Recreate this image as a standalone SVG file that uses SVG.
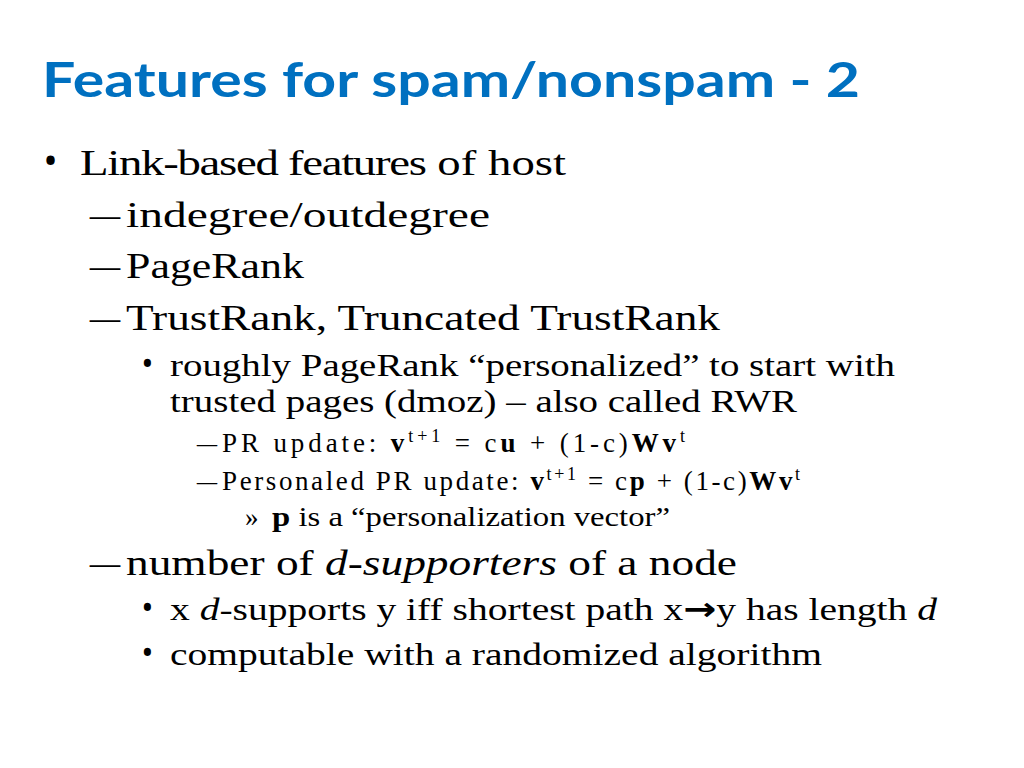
<svg xmlns="http://www.w3.org/2000/svg" width="1024" height="768" viewBox="0 0 1024 768">
<style>
.t{font-family:"Liberation Serif","DejaVu Serif",serif;fill:#000}
.s{font-family:"Open Sans","Liberation Sans",sans-serif}
.b{font-weight:bold}
.i{font-style:italic}
</style>
<rect width="1024" height="768" fill="#fff"/>
<text x="42" y="97" font-family="Lato,'Open Sans',sans-serif" font-weight="bold" font-size="48" fill="#0070C0" textLength="818" lengthAdjust="spacingAndGlyphs">Features for spam/nonspam - 2</text>
<g class="t">
<text x="43" y="175" font-size="40" class="s">•</text>
<text x="80" y="175" font-size="36" textLength="486" lengthAdjust="spacingAndGlyphs"><tspan letter-spacing="-1">Link-based features</tspan> of host</text>
<text x="90" y="227" font-size="36" textLength="30" lengthAdjust="spacingAndGlyphs">–</text>
<text x="126" y="227" font-size="36" textLength="364" lengthAdjust="spacingAndGlyphs">indegree/outdegree</text>
<text x="90" y="278" font-size="36" textLength="30" lengthAdjust="spacingAndGlyphs">–</text>
<text x="126" y="278" font-size="36" textLength="178" lengthAdjust="spacingAndGlyphs">PageRank</text>
<text x="90" y="330" font-size="36" textLength="30" lengthAdjust="spacingAndGlyphs">–</text>
<text x="126" y="330" font-size="36" textLength="594" lengthAdjust="spacingAndGlyphs">TrustRank, Truncated TrustRank</text>
<text x="141" y="376" font-size="34" class="s">•</text>
<text x="170" y="376" font-size="32" textLength="725" lengthAdjust="spacingAndGlyphs">roughly PageRank “personalized” to start with</text>
<text x="170" y="412" font-size="32" textLength="627" lengthAdjust="spacingAndGlyphs">trusted pages (dmoz) – also called RWR</text>
<text x="197" y="452" font-size="27" textLength="20" lengthAdjust="spacingAndGlyphs">–</text>
<text x="222" y="452" font-size="27" textLength="463" lengthAdjust="spacing">PR update: <tspan class="b">v</tspan><tspan font-size="18" dy="-10">t+1</tspan><tspan dy="10"> = c</tspan><tspan class="b">u</tspan> + (1-c)<tspan class="b">Wv</tspan><tspan font-size="18" dy="-10">t</tspan></text>
<text x="197" y="490" font-size="27" textLength="20" lengthAdjust="spacingAndGlyphs">–</text>
<text x="222" y="490" font-size="27" textLength="578" lengthAdjust="spacing">Personaled PR update: <tspan class="b">v</tspan><tspan font-size="18" dy="-10">t+1</tspan><tspan dy="10"> = c</tspan><tspan class="b">p</tspan> + (1-c)<tspan class="b">Wv</tspan><tspan font-size="18" dy="-10">t</tspan></text>
<text x="245" y="526" font-size="27">»</text>
<text x="272" y="526" font-size="27" textLength="398" lengthAdjust="spacingAndGlyphs"><tspan class="b">p</tspan> is a “personalization vector”</text>
<text x="90" y="575" font-size="36" textLength="30" lengthAdjust="spacingAndGlyphs">–</text>
<text x="126" y="575" font-size="36" textLength="611" lengthAdjust="spacingAndGlyphs">number of <tspan class="i">d-supporters</tspan> of a node</text>
<text x="141" y="620" font-size="34" class="s">•</text>
<text x="170" y="620" font-size="32" textLength="767" lengthAdjust="spacingAndGlyphs">x <tspan class="i">d</tspan>-supports y iff shortest path x<tspan class="b" font-family="'DejaVu Sans',sans-serif">→</tspan>y has length <tspan class="i">d</tspan></text>
<text x="141" y="665" font-size="34" class="s">•</text>
<text x="170" y="665" font-size="32" textLength="652" lengthAdjust="spacingAndGlyphs">computable with a randomized algorithm</text>
</g>
</svg>
